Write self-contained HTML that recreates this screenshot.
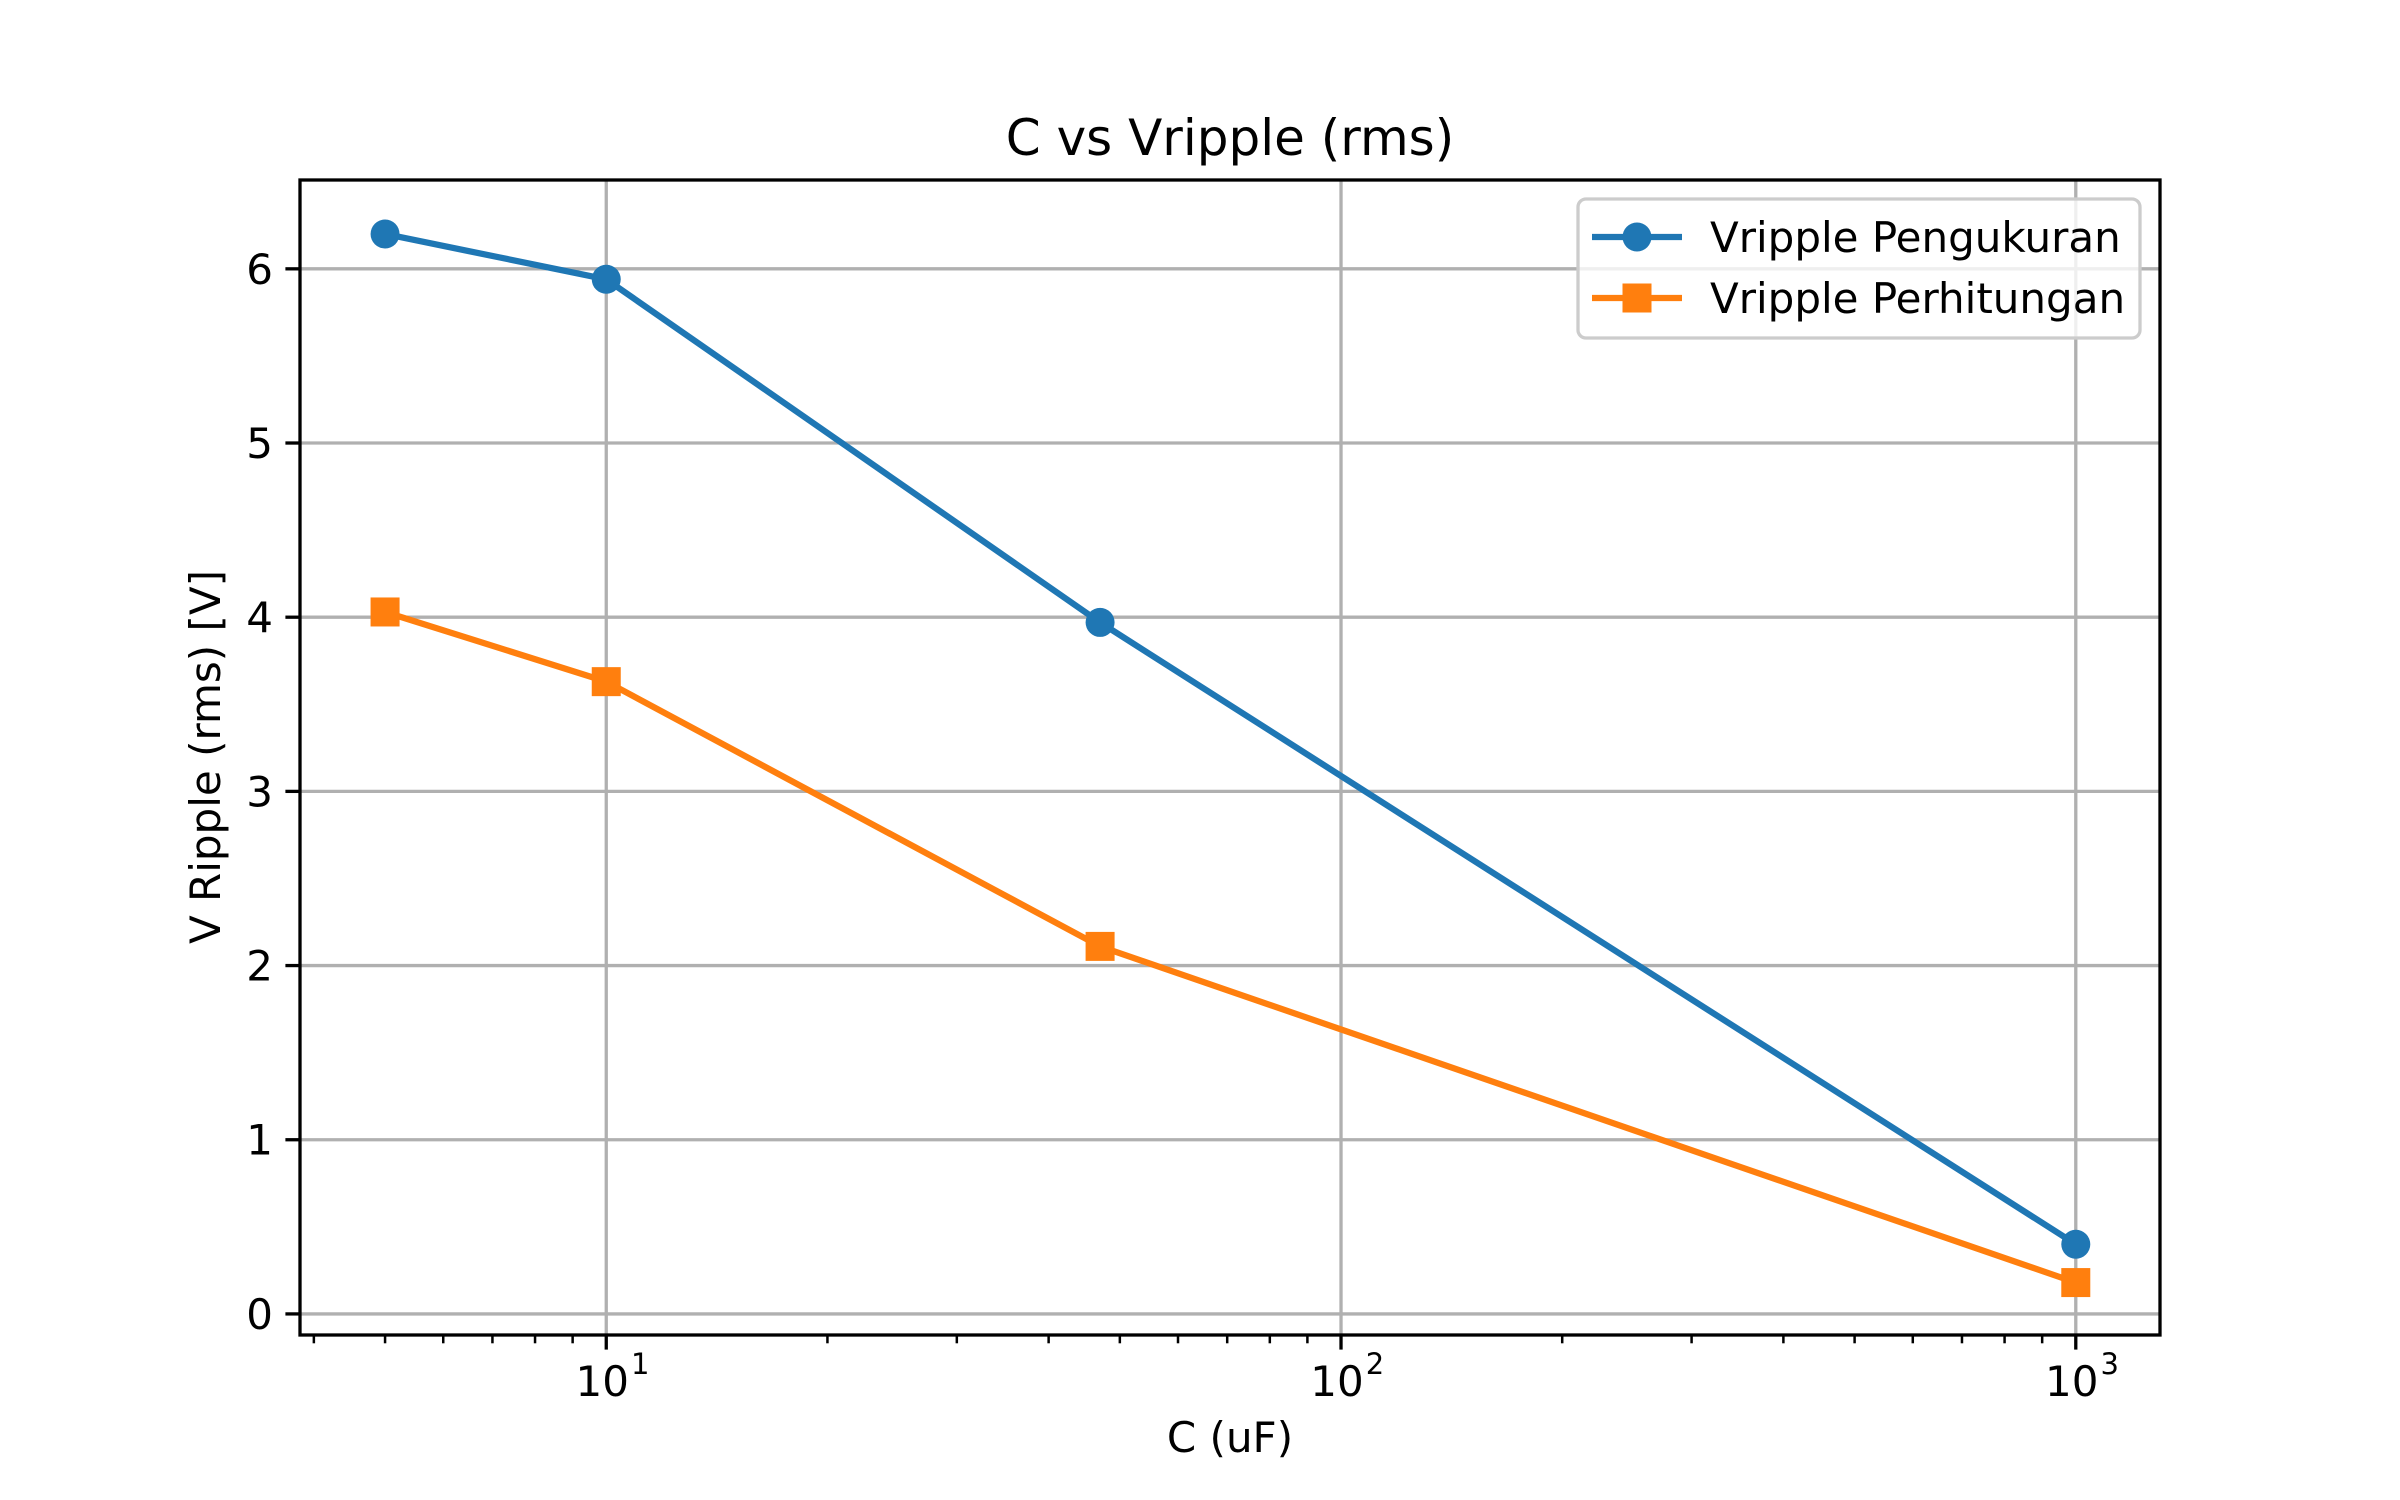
<!DOCTYPE html>
<html><head><meta charset="utf-8"><style>
html,body{margin:0;padding:0;background:#fff;}
svg{display:block;font-family:"DejaVu Sans","Liberation Sans",sans-serif;}
</style></head><body>
<svg id="chart" width="2400" height="1500" viewBox="0 0 2400 1500" xmlns="http://www.w3.org/2000/svg">
<rect width="2400" height="1500" fill="#fff"/>
<g id="grid"></g>
<g id="series"></g>
<g id="axes"></g>
<text x="1230" y="155" font-size="50" text-anchor="middle">C vs Vripple (rms)</text>
<text x="1230" y="1452" font-size="42" text-anchor="middle">C (uF)</text>
<text x="0" y="0" font-size="42" text-anchor="middle" transform="translate(220,757) rotate(-90)">V Ripple (rms) [V]</text>
<g id="legend"></g>
</svg>
<script>
const categories = [5, 10, 47, 1000];
const seriesPengukuran = [6.2, 5.94, 3.97, 0.40];
const seriesPerhitungan = [4.03, 3.63, 2.11, 0.18];
const yTicks = [0, 1, 2, 3, 4, 5, 6];
const xMajorTicks = [10, 100, 1000];
const xTickExps = ["1", "2", "3"];

const NS = "http://www.w3.org/2000/svg";
const L = 300, R = 2160, T = 180, B = 1335;
const xmin = Math.log10(3.83), xmax = Math.log10(1302);
const ymin = -0.121, ymax = 6.51;
function xs(v){ return L + (Math.log10(v) - xmin) / (xmax - xmin) * (R - L); }
function ys(v){ return B - (v - ymin) / (ymax - ymin) * (B - T); }
function mk(tag, attrs, parent){ const e = document.createElementNS(NS, tag); for (const k in attrs) e.setAttribute(k, attrs[k]); parent.appendChild(e); return e; }

const grid = document.getElementById('grid');
const axes = document.getElementById('axes');
const series = document.getElementById('series');
const legend = document.getElementById('legend');

yTicks.forEach(v => {
  const y = ys(v);
  const g = mk('line', {x1: L, x2: R, y1: y, y2: y, stroke: '#b0b0b0', 'stroke-width': 3.3}, grid);
  
  
  const t = mk('line', {x1: L - 14.6, x2: L, y1: y, y2: y, stroke: '#000', 'stroke-width': 3.3}, axes);
  
  
  const lb = mk('text', {x: L - 27, y: y + 15, 'font-size': 42, 'text-anchor': 'end'}, axes);
  
  
  lb.textContent = String(v);
});
xMajorTicks.forEach((v, i) => {
  const x = xs(v);
  const g = mk('line', {x1: x, x2: x, y1: T, y2: B, stroke: '#b0b0b0', 'stroke-width': 3.3}, grid);
  
  
  const t = mk('line', {x1: x, x2: x, y1: B, y2: B + 14.6, stroke: '#000', 'stroke-width': 3.3}, axes);
  
  
  const lb = mk('text', {x: x - 4, y: 1396, 'font-size': 42, 'text-anchor': 'middle'}, axes);
  
  
  lb.textContent = '10';
  const ex = mk('text', {x: x + 34, y: 1374, 'font-size': 29, 'text-anchor': 'middle'}, axes);
  
  
  ex.textContent = xTickExps[i];
});
[1, 10, 100].forEach(d => {
  for (let m = 2; m <= 9; m++) {
    const v = d * m;
    if (v < 3.83 || v > 1302) continue;
    const x = xs(v);
    const t = mk('line', {x1: x, x2: x, y1: B, y2: B + 8.3, stroke: '#000', 'stroke-width': 2.5}, axes);
    
    
  }
});
const frame = mk('rect', {x: L, y: T, width: R - L, height: B - T, fill: 'none', stroke: '#000', 'stroke-width': 3.3}, axes);



function drawSeries(vals, color, shape, name){
  const pts = categories.map((c, i) => xs(c) + ',' + ys(vals[i])).join(' ');
  const pl = mk('polyline', {points: pts, fill: 'none', stroke: color, 'stroke-width': 6.25, 'stroke-linejoin': 'round'}, series);
  
  
  categories.forEach((c, i) => {
    const x = xs(c), y = ys(vals[i]);
    let m;
    if (shape === 'circle') m = mk('circle', {cx: x, cy: y, r: 14.5, fill: color}, series);
    else m = mk('rect', {x: x - 14.5, y: y - 14.5, width: 29, height: 29, fill: color}, series);
    
    
  });
}
drawSeries(seriesPengukuran, '#1f77b4', 'circle', 'pengukuran');
drawSeries(seriesPerhitungan, '#ff7f0e', 'square', 'perhitungan');

const box = mk('rect', {x: 1578, y: 199, width: 562, height: 139, rx: 8, fill: '#fff', 'fill-opacity': 0.8, stroke: '#cccccc', 'stroke-width': 3.3}, legend);


[['Vripple Pengukuran', '#1f77b4', 'circle', 237], ['Vripple Perhitungan', '#ff7f0e', 'square', 298]].forEach(([label, color, shape, y]) => {
  const ln = mk('line', {x1: 1592, x2: 1682, y1: y, y2: y, stroke: color, 'stroke-width': 6.25}, legend);
  
  
  let m;
  if (shape === 'circle') m = mk('circle', {cx: 1637, cy: y, r: 14.5, fill: color}, legend);
  else m = mk('rect', {x: 1622.5, y: y - 14.5, width: 29, height: 29, fill: color}, legend);
  
  
  const t = mk('text', {x: 1710, y: y + 15, 'font-size': 42}, legend);
  
  
  t.textContent = label;
});
</script>
</body></html>
